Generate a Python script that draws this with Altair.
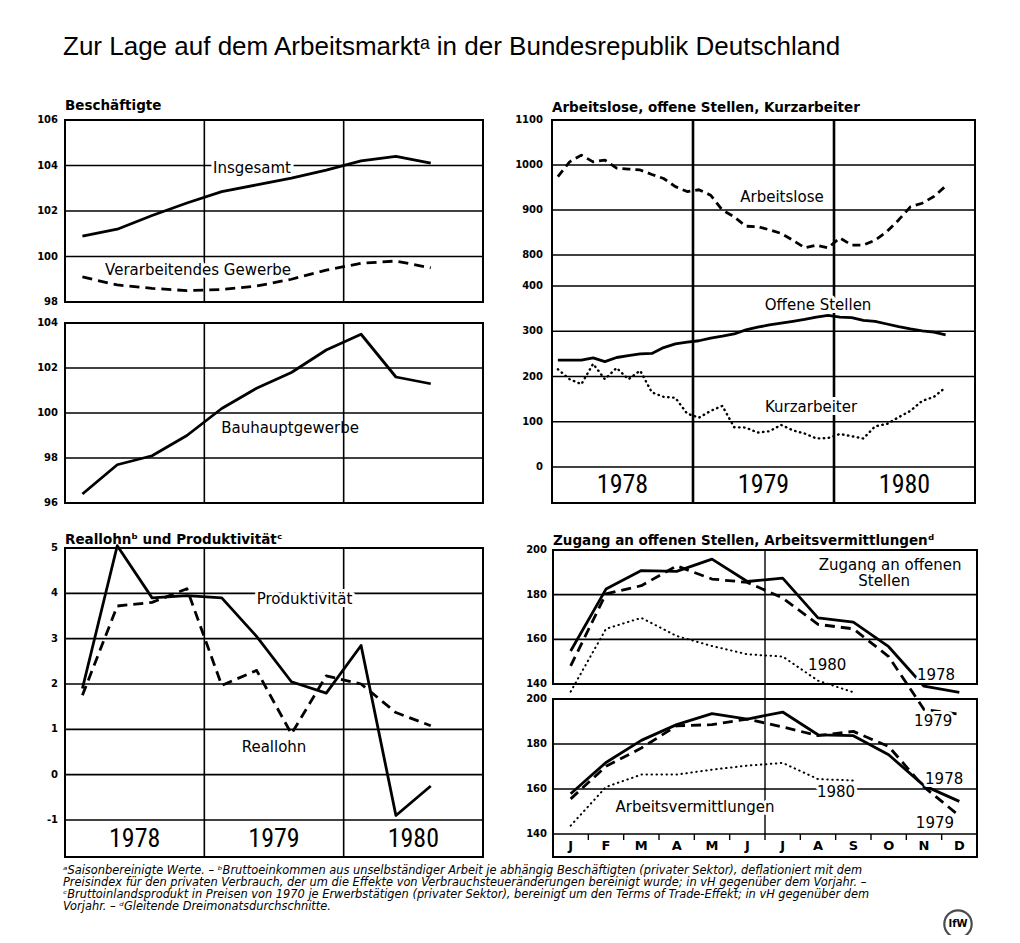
import altair as alt
import pandas as pd

W, H = 1004, 927
FONT = "DejaVu Sans"
NARROW = "Liberation Sans Narrow, Roboto Condensed, DejaVu Sans Condensed, Liberation Sans"
TFONT = "Liberation Sans"

# ---------------- data ----------------
quarter_idx = list(range(11))            # Q1 1978 ... Q3 1980
insgesamt = [100.9, 101.2, 101.8, 102.35, 102.85, 103.15, 103.45, 103.8, 104.2, 104.4, 104.1]
verarbeitend = [99.1, 98.75, 98.6, 98.5, 98.55, 98.7, 99.0, 99.4, 99.7, 99.8, 99.5]
bauhaupt = [96.4, 97.7, 98.1, 99.0, 100.2, 101.1, 101.8, 102.8, 103.5, 101.6, 101.3]
produktivitaet = [1.9, 5.05, 3.9, 3.95, 3.9, 3.05, 2.05, 1.8, 2.85, -0.9, -0.25]
reallohn = [1.75, 3.72, 3.8, 4.1, 1.97, 2.3, 0.9, 2.18, 2.0, 1.37, 1.08]

month_idx = list(range(34))               # Jan 1978 ... Oct 1980
arbeitslose = [974, 1007, 1022, 1007, 1011, 993, 991, 989, 979, 970, 952, 941,
               945, 933, 900, 885, 864, 863, 856, 848, 833, 816, 822, 816,
               838, 822, 822, 833, 852, 878, 907, 915, 930, 953]
offene_stellen = [236, 236, 236, 241, 233, 242, 246, 250, 251, 264, 272, 276,
                  279, 285, 289, 294, 303, 309, 314, 318, 322, 326, 331, 335,
                  331, 330, 324, 322, 316, 310, 305, 301, 298, 292]
kurzarbeiter = [216, 194, 183, 228, 194, 219, 194, 213, 165, 155, 153, 118,
                109, 124, 135, 88, 87, 76, 79, 93, 81, 74, 63, 64,
                73, 68, 63, 90, 95, 110, 124, 146, 155, 176]

months = ["J", "F", "M", "A", "M", "J", "J", "A", "S", "O", "N", "D"]
zugang_1978 = [154.8, 182.5, 190.8, 190.4, 195.9, 185.9, 187.4, 169.6, 167.7, 156.7, 139.0, 136.3]
zugang_1979 = [148.1, 180.4, 184.0, 192.9, 187.0, 185.5, 178.5, 166.7, 164.7, 152.3, 128.6, 126.5]
zugang_1980 = [136.6, 164.7, 169.6, 161.5, 157.0, 153.3, 152.3, 141.5, 136.3]
vermittl_1978 = [157.9, 171.8, 181.6, 188.6, 193.5, 191.1, 194.2, 184.1, 183.7, 175.2, 161.5, 154.5]
vermittl_1979 = [155.6, 170.1, 178.2, 188.1, 188.6, 191.1, 187.6, 183.7, 185.6, 178.9, 160.9, 148.1]
vermittl_1980 = [143.7, 160.9, 166.4, 166.4, 168.6, 170.4, 171.6, 164.4, 163.8]

years = ["1978", "1979", "1980"]
ticks_a = [98, 100, 102, 104, 106]
ticks_b = [96, 98, 100, 102, 104]
ticks_c = [-1, 0, 1, 2, 3, 4, 5]
ticks_d_up = [800, 900, 1000, 1100]
ticks_d_lo = [0, 100, 200, 300, 400]
ticks_e = [140, 160, 180, 200]

footnotes = [
    "\u1d43Saisonbereinigte Werte. \u2013 \u1d47Bruttoeinkommen aus unselbst\u00e4ndiger Arbeit je abh\u00e4ngig Besch\u00e4ftigten (privater Sektor), deflationiert mit dem",
    "Preisindex f\u00fcr den privaten Verbrauch, der um die Effekte von Verbrauchsteuer\u00e4nderungen bereinigt wurde; in vH gegen\u00fcber dem Vorjahr. \u2013",
    "\u1d9cBruttoinlandsprodukt in Preisen von 1970 je Erwerbst\u00e4tigen (privater Sektor), bereinigt um den Terms of Trade-Effekt; in vH gegen\u00fcber dem",
    "Vorjahr. \u2013 \u1d48Gleitende Dreimonatsdurchschnitte.",
]

# ---------------- helpers ----------------
layers = []


def sc(domain, rng):
    return alt.Scale(domain=domain, range=rng, nice=False, zero=False)


def qx(i):
    return 1978 + (i + 0.5) / 4


def mx(i):
    return 1978 + (i + 0.5) / 12


def X(field, s):
    return alt.X(field, scale=s, axis=None)


def Y(field, s):
    return alt.Y(field, scale=s, axis=None)


def line(xs_vals, ys_vals, xs, ys, dash=None, width=2.8, cap="butt"):
    df = pd.DataFrame({"x": xs_vals, "y": ys_vals})
    kw = dict(color="black", strokeWidth=width, strokeCap=cap, strokeJoin="round", clip=False)
    if dash:
        kw["strokeDash"] = dash
    layers.append(alt.Chart(df).mark_line(**kw).encode(x=X("x:Q", xs), y=Y("y:Q", ys)))


def hgrid(ticks, xd, xs, ys, width=1.6):
    df = pd.DataFrame({"y": ticks, "x0": xd[0], "x1": xd[1]})
    layers.append(alt.Chart(df).mark_rule(color="black", strokeWidth=width).encode(
        x=X("x0:Q", xs), x2="x1:Q", y=Y("y:Q", ys)))


def vlines(vals, xs, top, bottom, width=1.6):
    df = pd.DataFrame({"x": vals})
    layers.append(alt.Chart(df).mark_rule(color="black", strokeWidth=width).encode(
        x=X("x:Q", xs), y=alt.value(top), y2=alt.value(bottom)))


def frame(xd, xs, top, bottom, width=2):
    df = pd.DataFrame({"x0": [xd[0]], "x1": [xd[1]]})
    layers.append(alt.Chart(df).mark_rect(fillOpacity=0, stroke="black", strokeWidth=width).encode(
        x=X("x0:Q", xs), x2="x1:Q", y=alt.value(top), y2=alt.value(bottom)))


def ticklabels(ticks, x0, xs, ys, dx=-7, size=10):
    df = pd.DataFrame({"y": ticks, "x": x0, "t": [str(t) for t in ticks]})
    layers.append(alt.Chart(df).mark_text(align="right", baseline="middle", dx=dx, fontSize=size,
                                          font=FONT, fontWeight="bold", color="black").encode(
        x=X("x:Q", xs), y=Y("y:Q", ys), text="t:N"))


def label(txt, x, y, xs, ys, size=15, font=FONT, halo=True):
    df = pd.DataFrame({"x": [x], "y": [y], "t": [txt]})
    base = alt.Chart(df).encode(x=X("x:Q", xs), y=Y("y:Q", ys), text="t:N")
    if halo:
        layers.append(base.mark_text(fontSize=size, font=font, color="white", stroke="white",
                                     strokeWidth=6, strokeJoin="round", baseline="middle"))
    layers.append(base.mark_text(fontSize=size, font=font, color="black", baseline="middle"))


def rowtext(texts, xvals, xs, ypx, size=26, font=NARROW, weight="normal"):
    df = pd.DataFrame({"x": xvals, "t": texts})
    layers.append(alt.Chart(df).mark_text(fontSize=size, font=font, fontWeight=weight, baseline="middle",
                                          color="black").encode(
        x=X("x:Q", xs), y=alt.value(ypx), text="t:N"))


def freetext(txt, xpx, ypx, size, font=FONT, weight="normal", style="normal", baseline="alphabetic"):
    df = pd.DataFrame({"t": [txt]})
    layers.append(alt.Chart(df).mark_text(fontSize=size, font=font, fontWeight=weight, fontStyle=style,
                                          align="left", baseline=baseline, color="black").encode(
        x=alt.value(xpx), y=alt.value(ypx), text="t:N"))


DASH = [10, 6]
DOT = [0.5, 4.5]

# ---------------- Panel A: Beschäftigte ----------------
xd_y = [1978, 1981]
xa = sc(xd_y, [57, 475])
ya = sc([98, 106], [294, 112])
hgrid([100, 102, 104], xd_y, xa, ya)
vlines([1979, 1980], xa, 112, 294)
frame(xd_y, xa, 112, 294)
ticklabels(ticks_a, 1978, xa, ya)
label("Insgesamt", 1979.342, 103.89, xa, ya)
label("Verarbeitendes Gewerbe", 1978.955, 99.41, xa, ya)
line([qx(i) for i in quarter_idx], insgesamt, xa, ya)
line([qx(i) for i in quarter_idx], verarbeitend, xa, ya, dash=DASH)
freetext("Besch\u00e4ftigte", 57, 102, 13.5, weight="bold")

# ---------------- Panel B: Bauhauptgewerbe ----------------
yb = sc([96, 104], [495, 315])
hgrid([98, 100, 102], xd_y, xa, yb)
vlines([1979, 1980], xa, 315, 495)
frame(xd_y, xa, 315, 495)
ticklabels(ticks_b, 1978, xa, yb)
label("Bauhauptgewerbe", 1979.615, 99.33, xa, yb, halo=False)
line([qx(i) for i in quarter_idx], bauhaupt, xa, yb)

# ---------------- Panel C: Reallohn und Produktivität ----------------
yc = sc([-1, 5], [812, 540])
hgrid([-1, 0, 1, 2, 3, 4], xd_y, xa, yc)
vlines([1979, 1980], xa, 540, 849)
frame(xd_y, xa, 540, 849)
ticklabels(ticks_c, 1978, xa, yc)
label("Produktivit\u00e4t", 1979.719, 3.88, xa, yc)
label("Reallohn", 1979.5, 0.61, xa, yc)
line([qx(i) for i in quarter_idx], produktivitaet, xa, yc)
line([qx(i) for i in quarter_idx], reallohn, xa, yc, dash=DASH)
rowtext(years, [1978.5, 1979.5, 1980.5], xa, 831)
freetext("Reallohn\u1d47 und Produktivit\u00e4t\u1d9c", 57, 536, 13.5, weight="bold")

# ---------------- Panel D: Arbeitslose, offene Stellen, Kurzarbeiter ----------------
xd = sc(xd_y, [544, 967])
yd_up = sc([800, 1100], [247, 112])
yd_lo = sc([0, 400], [459, 278])
hgrid([800, 900, 1000], xd_y, xd, yd_up)
hgrid([0, 100, 200, 300, 400], xd_y, xd, yd_lo)
vlines([1979, 1980], xd, 112, 495, width=2.6)
frame(xd_y, xd, 112, 495)
ticklabels(ticks_d_up, 1978, xd, yd_up, dx=-9)
ticklabels(ticks_d_lo, 1978, xd, yd_lo, dx=-9)
label("Arbeitslose", 1979.631, 929, xd, yd_up)
label("Offene Stellen", 1979.887, 358, xd, yd_lo)
label("Kurzarbeiter", 1979.837, 132, xd, yd_lo)
line([mx(i) for i in month_idx], arbeitslose, xd, yd_up, dash=[8, 5])
line([mx(i) for i in month_idx], offene_stellen, xd, yd_lo)
line([mx(i) for i in month_idx], kurzarbeiter, xd, yd_lo, dash=DOT, width=2.4, cap="round")
rowtext(years, [1978.5, 1979.5, 1980.5], xd, 477)
freetext("Arbeitslose, offene Stellen, Kurzarbeiter", 544, 104, 13.5, weight="bold")

# ---------------- Panel E: Zugang an offenen Stellen, Arbeitsvermittlungen ----------------
xm_d = [0, 12]
xe = sc(xm_d, [545, 969])
ye_up = sc([140, 200], [676, 542])
ye_lo = sc([140, 200], [826, 691])
hgrid([160, 180], xm_d, xe, ye_up)
hgrid([140, 160, 180], xm_d, xe, ye_lo)
frame(xm_d, xe, 542, 676)
frame(xm_d, xe, 691, 849)
vlines([6], xe, 542, 826, width=1.4)
vlines(list(range(1, 12)), xe, 826, 832, width=1.4)
ticklabels(ticks_e, 0, xe, ye_up, dx=-6)
ticklabels(ticks_e, 0, xe, ye_lo, dx=-6)
mpos = [i + 0.5 for i in range(12)]
line(mpos, zugang_1978, xe, ye_up)
line(mpos, zugang_1979, xe, ye_up, dash=DASH)
line(mpos[:9], zugang_1980, xe, ye_up, dash=DOT, width=2.0, cap="round")
line(mpos, vermittl_1978, xe, ye_lo)
line(mpos, vermittl_1979, xe, ye_lo, dash=DASH)
line(mpos[:9], vermittl_1980, xe, ye_lo, dash=DOT, width=2.0, cap="round")
label("Zugang an offenen", 9.54, 193.3, xe, ye_up)
label("Stellen", 9.37, 185.9, xe, ye_up)
label("1980", 7.76, 148.5, xe, ye_up)
label("1978", 10.84, 144.0, xe, ye_up)
label("1979", 10.76, 123.4, xe, ye_up)
label("1978", 11.07, 164.4, xe, ye_lo)
label("1980", 8.01, 158.7, xe, ye_lo)
label("1979", 10.81, 145.0, xe, ye_lo)
label("Arbeitsvermittlungen", 4.02, 152.0, xe, ye_lo)
rowtext(months, mpos, xe, 838, size=13, font=FONT, weight="bold")
freetext("Zugang an offenen Stellen, Arbeitsvermittlungen\u1d48", 545, 537, 13.5, weight="bold")

# ---------------- title, footnotes, logo ----------------
freetext("Zur Lage auf dem Arbeitsmarkt\u1d43 in der Bundesrepublik Deutschland", 55, 47, 26, font=TFONT)
for k, txt in enumerate(footnotes):
    freetext(txt, 55, 866 + 12 * k, 11.4, font=FONT, style="italic")

logo = pd.DataFrame({"t": ["IfW"]})
layers.append(alt.Chart(logo).mark_point(shape="circle", size=750, filled=False, color="black",
                                          strokeWidth=2.2).encode(x=alt.value(950), y=alt.value(916)))
layers.append(alt.Chart(logo).mark_text(fontSize=10, font=FONT, fontWeight="bold", color="black",
                                         baseline="middle").encode(x=alt.value(950), y=alt.value(916), text="t:N"))

chart = alt.layer(*layers).resolve_scale(x="independent", y="independent").properties(
    width=W, height=H, autosize=alt.AutoSizeParams(type="none"), padding=0
).configure_view(stroke=None)

chart.save("out.html", embed_options={"renderer": "svg", "actions": False})
